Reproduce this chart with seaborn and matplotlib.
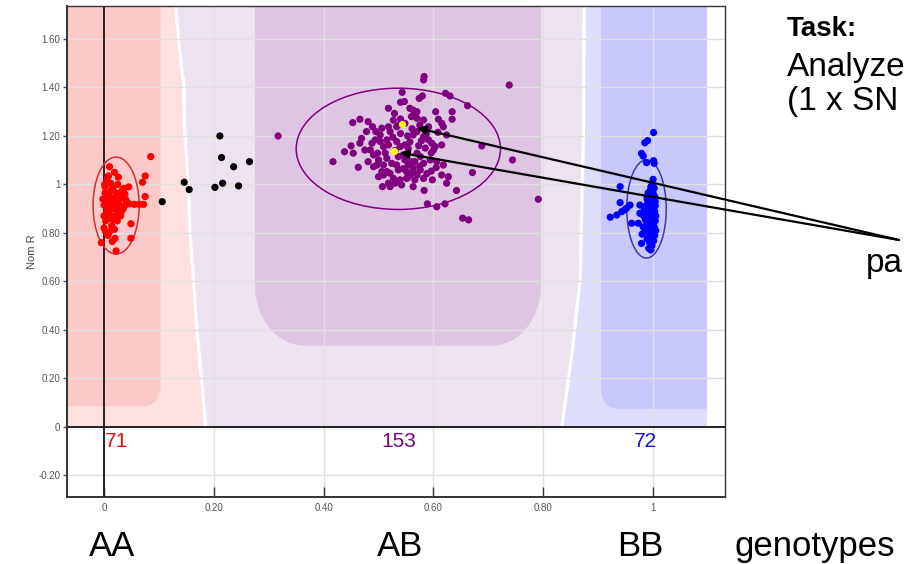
import numpy as np
import pandas as pd
import matplotlib
matplotlib.use("Agg")
import matplotlib.pyplot as plt
import seaborn as sns
from matplotlib.patches import Ellipse, Polygon

# ---------------- data ----------------
aa_x = [0.085, 0.075, 0.070, 0.075, 0.010, 0.019, 0.005, 0.012, 0.002, 0.016,
        0.025, 0.036, 0.030, 0.040, 0.046, 0.055, 0.064, 0.072, 0.008, 0.014,
        0.000, 0.018, 0.004, 0.026, 0.003, 0.016, 0.000, 0.010, 0.049, 0.049,
        0.020, 0.015, -0.005, 0.022, 0.028, 0.022, 0.033, 0.010, 0.006, 0.020,
        0.030, 0.012, -0.002, 0.035, 0.008, 0.026, 0.002, 0.017, 0.024, 0.007,
        0.030, 0.038, 0.045, 0.000, 0.014, 0.005, 0.026, 0.018, 0.034, 0.011,
        0.022, 0.003, 0.013, 0.032, 0.040, 0.009, 0.001, 0.027, 0.019, 0.023,
        0.006]
aa_y = [1.115, 1.035, 1.009, 0.950, 1.073, 1.050, 1.020, 1.005, 0.990, 0.985,
        1.000, 0.984, 0.955, 0.935, 0.920, 0.918, 0.918, 0.918, 0.955, 0.935,
        0.915, 0.905, 0.880, 0.890, 0.850, 0.855, 0.820, 0.805, 0.838, 0.778,
        0.778, 0.765, 0.760, 0.726, 0.940, 0.965, 0.975, 0.940, 0.900, 0.870,
        0.910, 0.870, 0.940, 0.900, 1.035, 1.030, 0.965, 0.920, 0.850, 0.790,
        0.870, 0.960, 0.990, 0.870, 0.830, 0.935, 0.925, 0.945, 0.945, 0.895,
        0.895, 0.805, 0.975, 0.890, 0.918, 0.860, 1.000, 0.960, 0.815, 0.935,
        0.920]

nc_x = [0.211, 0.214, 0.236, 0.265, 0.146, 0.155, 0.202, 0.216, 0.245, 0.106]
nc_y = [1.200, 1.111, 1.073, 1.094, 1.009, 0.979, 0.988, 1.005, 0.994, 0.929]

ab_x = [0.317, 0.583, 0.582, 0.738, 0.543, 0.574, 0.580, 0.622, 0.630, 0.662,
        0.540, 0.518, 0.529, 0.604, 0.634, 0.634, 0.609, 0.615, 0.453, 0.466,
        0.481, 0.688, 0.744, 0.791, 0.653, 0.664, 0.589, 0.606, 0.621, 0.671,
        0.642, 0.417, 0.438, 0.450, 0.454, 0.463, 0.507, 0.563, 0.583,
        0.466, 0.469, 0.488, 0.485, 0.481,
        0.489, 0.495, 0.503, 0.506, 0.518, 0.533, 0.521, 0.515, 0.518, 0.509,
        0.498, 0.491, 0.500, 0.509, 0.497, 0.515, 0.509, 0.521, 0.527, 0.518,
        0.553,
        0.563, 0.570, 0.566, 0.618, 0.582, 0.591, 0.570, 0.563, 0.582, 0.591,
        0.597, 0.603, 0.615, 0.600, 0.624, 0.570, 0.576, 0.566, 0.582, 0.594,
        0.606, 0.618, 0.563, 0.576, 0.570, 0.582, 0.566, 0.615, 0.627, 0.624,
        0.598,
        0.533, 0.539, 0.548, 0.554, 0.545, 0.536, 0.548, 0.554, 0.560, 0.563,
        0.557, 0.551, 0.547, 0.557, 0.560, 0.570, 0.537, 0.548, 0.521, 0.530,
        0.539, 0.542, 0.551,
        0.503, 0.494, 0.478, 0.475, 0.515, 0.524, 0.533, 0.536, 0.506, 0.500,
        0.491,
        0.575, 0.587, 0.578, 0.608, 0.596, 0.585, 0.573, 0.561, 0.553, 0.540,
        0.527, 0.596, 0.588, 0.605, 0.540, 0.526, 0.512, 0.530, 0.557, 0.575,
        0.545]
ab_y = [1.200, 1.445, 1.431, 1.410, 1.380, 1.355, 1.365, 1.376, 1.365, 1.325,
        1.339, 1.314, 1.293, 1.300, 1.300, 1.269, 1.269, 1.252, 1.255, 1.269,
        1.259, 1.159, 1.101, 0.939, 0.861, 0.854, 0.920, 0.908, 0.920, 1.049,
        0.975, 1.094, 1.135, 1.159, 1.129, 1.071, 0.991, 0.991, 0.975,
        1.170, 1.190, 1.170, 1.142, 1.094,
        1.238, 1.218, 1.204, 1.232, 1.238, 1.238, 1.218, 1.184, 1.163, 1.156,
        1.129, 1.122, 1.101, 1.080, 1.080, 1.053, 1.039, 1.046, 1.025, 1.005,
        1.028,
        1.307, 1.300, 1.287, 1.238, 1.266, 1.238, 1.218, 1.204, 1.197, 1.184,
        1.170, 1.156, 1.163, 1.142, 1.204, 1.129, 1.115, 1.094, 1.087, 1.101,
        1.094, 1.080, 1.067, 1.060, 1.039, 1.025, 1.019, 1.039, 1.032, 1.005,
        1.019,
        1.177, 1.156, 1.163, 1.149, 1.122, 1.115, 1.101, 1.080, 1.094, 1.053,
        1.039, 1.053, 1.342, 1.314, 1.280, 1.273, 1.245, 1.252, 0.991, 1.005,
        1.019, 0.998, 1.025,
        1.177, 1.184, 1.218, 1.142, 1.108, 1.087, 1.080, 1.060, 1.053, 1.032,
        1.073,
        1.245, 1.210, 1.180, 1.215, 1.130, 1.150, 1.160, 1.230, 1.200, 1.210,
        1.265, 1.055, 1.045, 1.070, 1.270, 1.195, 1.130, 1.140, 1.175, 1.075,
        1.065]

bb_x = [1.001, 0.990, 0.985, 0.979, 0.982, 0.988, 1.001, 1.002, 1.000, 0.940,
        0.940, 0.958, 0.952, 0.948, 0.943, 0.934, 0.922, 0.976, 0.976, 0.973,
        0.961, 0.979, 0.992, 0.998, 1.002, 0.995, 1.000, 0.993, 1.003, 0.997,
        0.990, 1.001, 0.995, 1.004, 0.992, 0.999, 0.987, 1.003, 0.995, 0.990,
        1.001, 0.996, 0.986, 1.004, 0.993, 0.999, 0.988, 1.002, 0.995, 0.985,
        1.000, 0.992, 1.003, 0.997, 0.989, 1.001, 0.994, 0.998, 0.996, 0.983,
        0.984, 0.982, 0.980, 0.991, 1.004, 0.996, 0.989, 0.987, 1.005, 1.005,
        0.993, 0.999]
bb_y = [1.214, 1.181, 1.172, 1.128, 1.117, 1.090, 1.098, 1.087, 1.021, 0.991,
        0.925, 0.915, 0.902, 0.895, 0.888, 0.874, 0.865, 0.915, 0.881, 0.840,
        0.840, 0.757, 0.737, 1.000, 0.985, 0.975, 0.965, 0.955, 0.950, 0.940,
        0.935, 0.928, 0.920, 0.912, 0.905, 0.900, 0.893, 0.888, 0.880, 0.872,
        0.868, 0.860, 0.855, 0.850, 0.845, 0.838, 0.830, 0.825, 0.818, 0.810,
        0.805, 0.797, 0.790, 0.782, 0.775, 0.768, 0.760, 0.748, 0.730, 0.870,
        0.900, 0.825, 0.795, 0.965, 0.930, 0.990, 0.945, 0.912, 0.870, 0.810,
        0.890, 0.855]

hl_x = [0.543, 0.528]          # highlighted (yellow) samples
hl_y = [1.249, 1.138]

genotypes = ["AA", "AB", "BB"]
counts = [71, 153, 72]
count_x = [0.001, 0.537, 0.986]

ell_cx = [0.022, 0.536, 0.988]
ell_cy = [0.913, 1.147, 0.899]
ell_w = [0.084, 0.372, 0.072]
ell_h = [0.400, 0.500, 0.405]

xticks = [0, 0.2, 0.4, 0.6, 0.8, 1.0]
xticklabels = ["0", "0.20", "0.40", "0.60", "0.80", "1"]
yticks = [-0.2, 0, 0.2, 0.4, 0.6, 0.8, 1.0, 1.2, 1.4, 1.6]
yticklabels = ["-0.20", "0", "0.20", "0.40", "0.60", "0.80", "1", "1.20", "1.40", "1.60"]

# ---------------- styles ----------------
pal = {"AA": "#ff0000", "AB": "#800080", "BB": "#0000ff", "NC": "#000000"}
count_col = ["#e01010", "#800080", "#1515d0"]
ell_col = ["#d03030", "#800080", "#3a3aa8"]
c_aa_out, c_aa_in = "#fde1e1", "#fcc8c8"
c_ab_out, c_ab_in = "#ede2f0", "#dec6e2"
c_bb_out, c_bb_in = "#dedefc", "#c8c8fc"

plt.rcParams["font.family"] = ["Liberation Sans", "DejaVu Sans"]

df = pd.DataFrame({
    "theta": aa_x + ab_x + bb_x + nc_x,
    "R": aa_y + ab_y + bb_y + nc_y,
    "call": ["AA"] * len(aa_x) + ["AB"] * len(ab_x) + ["BB"] * len(bb_x) + ["NC"] * len(nc_x),
})

W, H = 906, 564
fig = plt.figure(figsize=(W / 100, H / 100), dpi=100)
ax = fig.add_axes([66.7 / W, 1 - 497 / H, (725 - 66.7) / W, (497 - 6) / H])
XMIN, XMAX, YMIN, YMAX = -0.068, 1.131, -0.289, 1.736
ax.set_xlim(XMIN, XMAX)
ax.set_ylim(YMIN, YMAX)


def rrect(x0, x1, y0, y1, rx, ry, bl=True, br=True):
    pts = [(x0, y1)]
    if bl:
        t = np.linspace(np.pi, 1.5 * np.pi, 24)
        pts += list(zip(x0 + rx + rx * np.cos(t), y0 + ry + ry * np.sin(t)))
    else:
        pts.append((x0, y0))
    if br:
        t = np.linspace(1.5 * np.pi, 2 * np.pi, 24)
        pts += list(zip(x1 - rx + rx * np.cos(t), y0 + ry + ry * np.sin(t)))
    else:
        pts.append((x1, y0))
    pts.append((x1, y1))
    return pts


# cluster-region boundaries (background decoration)
b1_y = [1.80, 1.62, 1.48, 1.42, 1.22, 0.98, 0.81, 0.61, 0.40, 0.19, 0.0]
b1_x = [0.125, 0.132, 0.138, 0.142, 0.144, 0.151, 0.153, 0.160, 0.166, 0.175, 0.182]
b2_y = [1.80, 1.20, 0.60, 0.30, 0.0]
b2_x = [0.878, 0.876, 0.870, 0.855, 0.837]
gap = 0.006
TOP = 1.80

aa_out = [(-0.2, 0), (-0.2, TOP)] + list(zip(b1_x, b1_y))
ab_out = list(zip([x + gap for x in b1_x][::-1], b1_y[::-1])) + list(zip([x - gap for x in b2_x], b2_y))
bb_out = list(zip(b2_x[::-1], b2_y[::-1])) + [(1.098, TOP), (1.098, 0)]

ax.add_patch(Polygon(aa_out, closed=True, fc=c_aa_out, ec="none", zorder=0.1))
ax.add_patch(Polygon(ab_out, closed=True, fc=c_ab_out, ec="none", zorder=0.1))
ax.add_patch(Polygon(bb_out, closed=True, fc=c_bb_out, ec="none", zorder=0.1))
ax.add_patch(Polygon(rrect(-0.2, 0.103, 0.085, TOP, 0.03, 0.08, bl=False, br=True),
                     closed=True, fc=c_aa_in, ec="none", zorder=0.2))
ax.add_patch(Polygon(rrect(0.275, 0.796, 0.335, TOP, 0.09, 0.25),
                     closed=True, fc=c_ab_in, ec="none", zorder=0.2))
ax.add_patch(Polygon(rrect(0.905, 1.098, 0.075, TOP, 0.03, 0.08, bl=True, br=False),
                     closed=True, fc=c_bb_in, ec="none", zorder=0.2))

ax.set_axisbelow(True)
ax.grid(True, color="#e0e0e0", lw=1.0)
ax.axvline(0, color="#222222", lw=1.4, zorder=2)
ax.axhline(0, color="#222222", lw=1.4, zorder=2)

for cx, cy, w, h, c in zip(ell_cx, ell_cy, ell_w, ell_h, ell_col):
    ax.add_patch(Ellipse((cx, cy), w, h, fill=False, ec=c, lw=1.1, zorder=3))

sns.scatterplot(data=df, x="theta", y="R", hue="call", palette=pal, s=27,
                linewidth=0, legend=False, ax=ax, zorder=4)
ax.scatter(hl_x, hl_y, s=27, color="#ffff00", linewidths=0, zorder=5)

for x, n, c in zip(count_x, counts, count_col):
    ax.text(x, -0.06, str(n), color=c, fontsize=15,
            ha="left" if x < 0.1 else "center", va="center", zorder=6)

ax.set_xticks(xticks, xticklabels)
ax.set_yticks(yticks, yticklabels)
ax.tick_params(axis="x", direction="in", length=7, width=1, color="#333333",
               labelsize=7, labelcolor="#555555", pad=4)
ax.tick_params(axis="y", direction="out", length=3, width=1, color="#555555",
               labelsize=7, labelcolor="#555555", pad=1.5)
ax.set_xlabel("")
ax.set_ylabel("Nom R", fontsize=8, color="#444444", labelpad=1)
for side, sp in ax.spines.items():
    sp.set_color("#333333")
    sp.set_linewidth(1.4 if side in ("left", "bottom") else 1.0)

# arrows to highlighted samples
tail = (899, H - 240)
for hx, hy in [(0.570, 1.233), (0.539, 1.131)]:
    ax.annotate("", xy=(hx, hy), xycoords="data", xytext=tail,
                textcoords="figure pixels",
                arrowprops=dict(arrowstyle="-|>", color="black", lw=1.6,
                                mutation_scale=13, shrinkA=0, shrinkB=0),
                annotation_clip=False, zorder=7)


# annotation texts
def ftext(px, py, s, **kw):
    fig.text(px / W, 1 - py / H, s, va="baseline", ha="left", **kw)


ftext(787, 36, "Task:", fontsize=20, fontweight="bold")
ftext(787, 76, "Analyze", fontsize=24)
ftext(787, 110, "(1 x SN", fontsize=24)
ftext(866, 272, "pa", fontsize=24)
for lab, px in zip(genotypes, [112, 400, 640]):
    fig.text(px / W, 1 - 556 / H, lab, fontsize=25, ha="center", va="baseline")
ftext(735, 556, "genotypes", fontsize=25)

fig.savefig("out.png", dpi=100)
